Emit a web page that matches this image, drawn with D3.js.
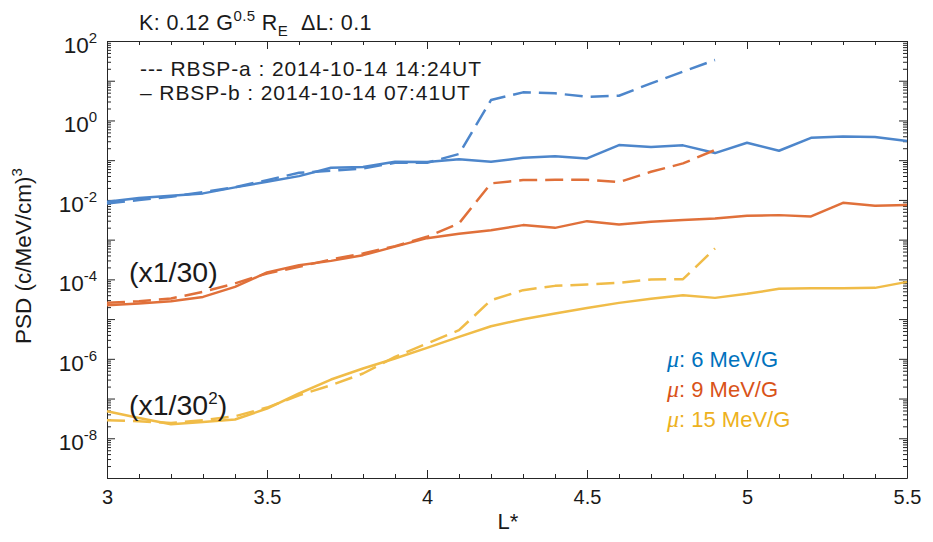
<!DOCTYPE html>
<html>
<head>
<meta charset="utf-8">
<script src="https://cdn.jsdelivr.net/npm/d3@7"></script>
<style>
  html, body { margin: 0; padding: 0; background: #fff; }
  svg { display: block; font-family: "Liberation Sans", Arial, Helvetica, sans-serif; }
  text { white-space: pre; }
</style>
</head>
<body>
<svg id="chart" width="933" height="542"></svg>
<script>
// L* grid of each pass
const lstarB = [3.0, 3.1, 3.2, 3.3, 3.4, 3.5, 3.6, 3.7, 3.8, 3.9, 4.0, 4.1, 4.2,
                4.3, 4.4, 4.5, 4.6, 4.7, 4.8, 4.9, 5.0, 5.1, 5.2, 5.3, 5.4, 5.5];
const lstarA = [3.0, 3.1, 3.2, 3.3, 3.4, 3.5, 3.6, 3.7, 3.8, 3.9, 4.0, 4.1, 4.2,
                4.3, 4.4, 4.5, 4.6, 4.7, 4.8, 4.9];

// PSD, mu = 6 MeV/G
const psd6B = [8.95e-3, 1.11e-2, 1.27e-2, 1.46e-2, 2.07e-2, 2.86e-2, 3.97e-2, 6.44e-2, 6.70e-2,
               9.1e-2, 8.95e-2, 0.105, 0.091, 0.115, 0.125, 0.111, 0.24, 0.214, 0.236, 0.151,
               0.274, 0.173, 0.366, 0.397, 0.382, 0.303];
const psd6A = [8.17e-3, 9.9e-3, 1.20e-2, 1.57e-2, 2.10e-2, 3.15e-2, 4.82e-2, 5.41e-2, 6.21e-2,
               8.6e-2, 8.6e-2, 0.143, 3.27, 5.1, 4.82, 3.95, 4.19, 8.6, 16.9, 33.2];

// PSD, mu = 9 MeV/G (already multiplied by 1/30)
const psd9B = [2.24e-5, 2.47e-5, 2.82e-5, 3.62e-5, 6.47e-5, 1.49e-4, 2.28e-4, 2.92e-4, 4.07e-4,
               6.67e-4, 1.09e-3, 1.40e-3, 1.73e-3, 2.32e-3, 1.98e-3, 2.92e-3, 2.42e-3, 2.81e-3,
               3.10e-3, 3.42e-3, 3.97e-3, 4.14e-3, 3.84e-3, 8.45e-3, 7.10e-3, 7.40e-3];
const psd9A = [2.56e-5, 2.82e-5, 3.30e-5, 4.84e-5, 7.89e-5, 1.41e-4, 2.07e-4, 3.17e-4, 4.49e-4,
               6.86e-4, 1.18e-3, 2.56e-3, 2.61e-2, 3.15e-2, 3.21e-2, 3.21e-2, 2.81e-2, 5.1e-2,
               8.3e-2, 0.18];

// PSD, mu = 15 MeV/G (already multiplied by 1/30^2)
const psd15B = [4.79e-8, 3.24e-8, 2.25e-8, 2.58e-8, 2.96e-8, 5.6e-8, 1.34e-7, 3.01e-7, 5.70e-7,
                1.02e-6, 1.88e-6, 3.56e-6, 6.62e-6, 9.93e-6, 1.38e-5, 1.91e-5, 2.56e-5, 3.23e-5,
                4.0e-5, 3.42e-5, 4.32e-5, 5.77e-5, 6.0e-5, 6.0e-5, 6.11e-5, 8.65e-5];
const psd15A = [2.84e-8, 2.68e-8, 2.43e-8, 2.84e-8, 3.58e-8, 5.93e-8, 1.21e-7, 2.16e-7, 4.27e-7,
                1.12e-6, 2.43e-6, 5.25e-6, 2.99e-5, 5.35e-5, 6.86e-5, 7.45e-5, 8.17e-5, 9.93e-5,
                1.01e-4, 6.0e-4];

const muLabels = ["6 MeV/G", "9 MeV/G", "15 MeV/G"];
const lineColors = ["#4d86cb", "#e0703a", "#f0bc48"];
const textColors = ["#0072bd", "#d95319", "#edb120"];

const xTicks = [3, 3.5, 4, 4.5, 5, 5.5];
const xMinorTicks = [3.1, 3.2, 3.3, 3.4, 3.6, 3.7, 3.8, 3.9, 4.1, 4.2, 4.3, 4.4,
                     4.6, 4.7, 4.8, 4.9, 5.1, 5.2, 5.3, 5.4];
const yTickExps = [-8, -6, -4, -2, 0, 2];

const svg = d3.select("#chart");
const plotLeft = 107, plotRight = 907, plotTop = 41, plotBottom = 478;

const x = d3.scaleLinear().domain([3, 5.5]).range([plotLeft, plotRight]);
const y = d3.scaleLog().domain([1e-9, 1e2]).range([plotBottom, plotTop]);

const axisColor = "#262626";

// minor decade ticks for the log axis
const yMinor = [];
for (let e = -9; e < 2; e++) for (let m = 2; m <= 9; m++) yMinor.push(m * Math.pow(10, e));
const yMajor = [];
for (let e = -9; e <= 2; e++) yMajor.push(Math.pow(10, e));

function styleAxis(g) {
  g.selectAll("path.domain").attr("stroke", axisColor).attr("stroke-width", 1);
  g.selectAll(".tick line").attr("stroke", axisColor).attr("stroke-width", 1);
}

// bottom axis with labels
const gBottom = svg.append("g").attr("transform", `translate(0,${plotBottom})`)
  .call(d3.axisBottom(x).tickValues(xTicks).tickSize(-8).tickSizeOuter(0).tickPadding(12)
    .tickFormat(d => String(d)));
gBottom.selectAll("text").attr("font-size", 20).attr("fill", "#1a1a1a")
  .attr("font-family", "Liberation Sans, Arial, sans-serif");
styleAxis(gBottom);
svg.append("g").attr("transform", `translate(0,${plotBottom})`)
  .call(d3.axisBottom(x).tickValues(xMinorTicks).tickSize(-4).tickSizeOuter(0).tickFormat(""))
  .call(styleAxis).select("path.domain").remove();

// top axis (ticks only)
const gTop = svg.append("g").attr("transform", `translate(0,${plotTop})`)
  .call(d3.axisTop(x).tickValues(xTicks).tickSize(-8).tickSizeOuter(0).tickFormat(""));
styleAxis(gTop);
svg.append("g").attr("transform", `translate(0,${plotTop})`)
  .call(d3.axisTop(x).tickValues(xMinorTicks).tickSize(-4).tickSizeOuter(0).tickFormat(""))
  .call(styleAxis).select("path.domain").remove();

// left axis
const gLeft = svg.append("g").attr("transform", `translate(${plotLeft},0)`)
  .call(d3.axisLeft(y).tickValues(yMajor).tickSize(-8).tickSizeOuter(0).tickFormat(""));
styleAxis(gLeft);
svg.append("g").attr("transform", `translate(${plotLeft},0)`)
  .call(d3.axisLeft(y).tickValues(yMinor).tickSize(-4).tickSizeOuter(0).tickFormat(""))
  .call(styleAxis).select("path.domain").remove();

// right axis
const gRight = svg.append("g").attr("transform", `translate(${plotRight},0)`)
  .call(d3.axisRight(y).tickValues(yMajor).tickSize(-8).tickSizeOuter(0).tickFormat(""));
styleAxis(gRight);
svg.append("g").attr("transform", `translate(${plotRight},0)`)
  .call(d3.axisRight(y).tickValues(yMinor).tickSize(-4).tickSizeOuter(0).tickFormat(""))
  .call(styleAxis).select("path.domain").remove();

// y tick labels: 10^n
yTickExps.forEach(e => {
  const t = svg.append("text")
    .attr("x", plotLeft - 10).attr("y", y(Math.pow(10, e)) + 12)
    .attr("text-anchor", "end").attr("fill", "#1a1a1a");
  t.append("tspan").attr("font-size", 22.5).text("10");
  t.append("tspan").attr("font-size", 15).attr("dy", -10).text(String(e));
});

// series
const line = d3.line().x(d => x(d[0])).y(d => y(d[1]));
const seriesB = [psd6B, psd9B, psd15B];
const seriesA = [psd6A, psd9A, psd15A];
const plot = svg.append("g");
for (let i = 0; i < 3; i++) {
  plot.append("path")
    .datum(lstarB.map((l, j) => [l, seriesB[i][j]]))
    .attr("d", line).attr("fill", "none")
    .attr("stroke", lineColors[i]).attr("stroke-width", 2.5)
    .attr("stroke-linejoin", "round");
  plot.append("path")
    .datum(lstarA.map((l, j) => [l, seriesA[i][j]]))
    .attr("d", line).attr("fill", "none")
    .attr("stroke", lineColors[i]).attr("stroke-width", 2.5)
    .attr("stroke-dasharray", "18,8")
    .attr("stroke-linejoin", "round");
}

// title
const title = svg.append("text").attr("x", 139).attr("y", 30).attr("fill", "#1a1a1a")
  .attr("font-size", 21.5).attr("letter-spacing", 0.4);
title.append("tspan").text("K: 0.12 G");
title.append("tspan").attr("font-size", 15).attr("dy", -9).text("0.5");
title.append("tspan").attr("dy", 9).text(" R");
title.append("tspan").attr("font-size", 15).attr("dy", 6).text("E");
title.append("tspan").attr("dy", -6).text("  \u0394L: 0.1");

// spacecraft key
svg.append("text").attr("x", 140).attr("y", 76).attr("font-size", 21).attr("letter-spacing", 0.9)
  .attr("fill", "#1a1a1a").text("--- RBSP-a : 2014-10-14 14:24UT");
svg.append("text").attr("x", 140).attr("y", 100).attr("font-size", 21).attr("letter-spacing", 0.9)
  .attr("fill", "#1a1a1a").text("\u2013 RBSP-b : 2014-10-14 07:41UT");

// scaling notes
svg.append("text").attr("x", 129).attr("y", 282).attr("font-size", 28.5).attr("fill", "#1a1a1a")
  .text("(x1/30)");
const s2 = svg.append("text").attr("x", 129).attr("y", 415).attr("font-size", 28.5).attr("fill", "#1a1a1a");
s2.append("tspan").text("(x1/30");
s2.append("tspan").attr("font-size", 17).attr("dy", -11).text("2");
s2.append("tspan").attr("dy", 11).text(")");

// mu key
muLabels.forEach((lab, i) => {
  const t = svg.append("text").attr("x", 667).attr("y", 367 + i * 30)
    .attr("font-size", 22).attr("fill", textColors[i]);
  t.append("tspan").attr("font-family", "Liberation Serif, DejaVu Serif, serif")
    .attr("font-style", "italic").attr("font-size", 24).text("\u03bc");
  t.append("tspan").text(": " + lab);
});

// axis titles
svg.append("text").attr("x", 508).attr("y", 529).attr("text-anchor", "middle")
  .attr("font-size", 22).attr("fill", "#1a1a1a").text("L*");
const yl = svg.append("text").attr("transform", "translate(31,256) rotate(-90)")
  .attr("text-anchor", "middle").attr("font-size", 22.5).attr("fill", "#1a1a1a");
yl.append("tspan").text("PSD (c/MeV/cm)");
yl.append("tspan").attr("font-size", 15).attr("dy", -9).text("3");
</script>
</body>
</html>
